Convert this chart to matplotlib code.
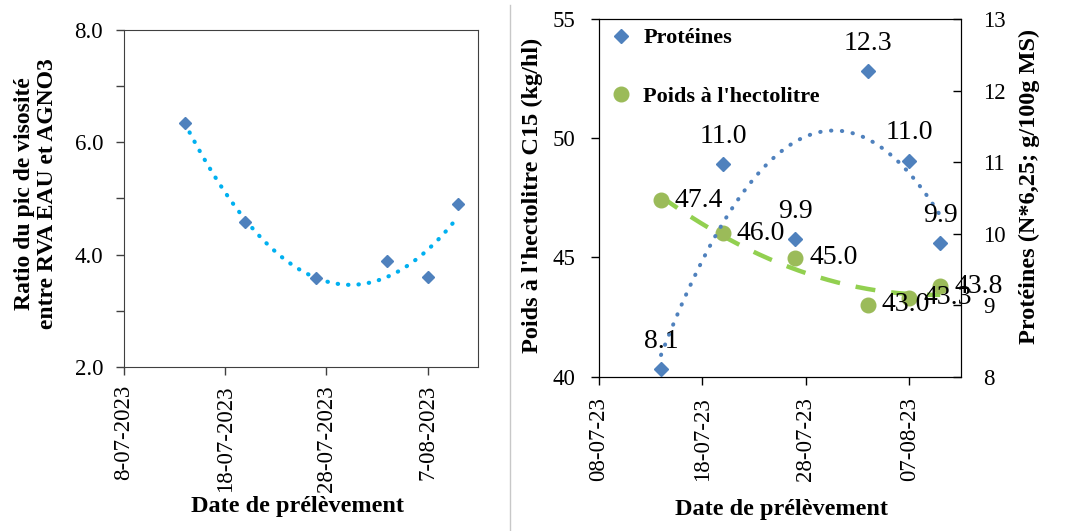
import numpy as np
import pandas as pd
import matplotlib
matplotlib.use("Agg")
import matplotlib.pyplot as plt
import matplotlib.dates as mdates
from matplotlib.lines import Line2D

plt.rcParams['font.family'] = ['Liberation Serif', 'DejaVu Serif']

# left panel data
dates_left = ["2023-07-14", "2023-07-20", "2023-07-27", "2023-08-03", "2023-08-07", "2023-08-10"]
ratio = [6.35, 4.58, 3.59, 3.88, 3.60, 4.90]
left_ticks = ["2023-07-08", "2023-07-18", "2023-07-28", "2023-08-07"]
left_tick_labels = ["8-07-2023", "18-07-2023", "28-07-2023", "7-08-2023"]

# right panel data
dates_right = ["2023-07-14", "2023-07-20", "2023-07-27", "2023-08-03", "2023-08-07", "2023-08-10"]
proteines = [8.11, 10.97, 9.92, 12.27, 11.02, 9.87]
poids = [47.40, 46.01, 44.99, 43.02, 43.31, 43.80]
right_ticks = ["2023-07-08", "2023-07-18", "2023-07-28", "2023-08-07"]
right_tick_labels = ["08-07-23", "18-07-23", "28-07-23", "07-08-23"]

x_start, x_end = "2023-07-08", "2023-08-12"

fig = plt.figure(figsize=(10.91, 5.31), dpi=100)

# ---------------- left panel ----------------
ax = fig.add_axes([0.1137, 0.3089, 0.3245, 0.6347])
xl = mdates.date2num(pd.to_datetime(dates_left))
ax.plot(xl, ratio, linestyle='none', marker='D', markersize=6.5, color='#4F81BD', zorder=3)
coef = np.polyfit(xl - xl[0], ratio, 2)
xs = np.linspace(xl[0], xl[-1], 200)
ax.plot(xs, np.polyval(coef, xs - xl[0]), color='#00B0F0', lw=3,
        linestyle=(0, (0.1, 2.4)), dash_capstyle='round', zorder=2)

ax.set_xlim(mdates.date2num(pd.to_datetime(x_start)), mdates.date2num(pd.to_datetime(x_end)))
ax.set_ylim(2, 8)
ax.set_yticks([2, 4, 6, 8])
ax.set_yticklabels(["2.0", "4.0", "6.0", "8.0"])
ax.set_yticks([3, 5, 7], minor=True)
ax.set_xticks(mdates.date2num(pd.to_datetime(left_ticks)))
ax.set_xticklabels(left_tick_labels, rotation=90)
ax.tick_params(axis='both', which='both', direction='out', length=6, width=1, labelsize=16.5, color='#404040')
ax.tick_params(axis='y', pad=9)
ax.tick_params(axis='x', pad=7)
for s in ax.spines.values():
    s.set_color('#404040')
ax.set_ylabel("Ratio du pic de visosité\nentre RVA EAU et AGNO3", fontsize=17,
              fontweight='bold', va='center', linespacing=1.15)
ax.yaxis.set_label_coords(-0.249, 0.515)
ax.set_xlabel("Date de prélèvement", fontsize=17.5, fontweight='bold', va='center')
ax.xaxis.set_label_coords(0.49, -0.4145)

# ---------------- right panel ----------------
ax1 = fig.add_axes([0.549, 0.2906, 0.3318, 0.6736])
ax2 = ax1.twinx()
xr = mdates.date2num(pd.to_datetime(dates_right))

ax1.plot(xr, poids, linestyle='none', marker='o', markersize=10.5, color='#9BBB59', zorder=3)
c_p = np.polyfit(xr - xr[0], poids, 2)
xs = np.linspace(xr[0], xr[-1], 200)
ax1.plot(xs, np.polyval(c_p, xs - xr[0]), color='#92D050', lw=3.2,
         linestyle=(0, (4.5, 3.6)), zorder=2)
for x, v in zip(xr, poids):
    ax1.annotate(f"{v:.1f}", (x, v), xytext=(10, 0), textcoords='offset points',
                 ha='left', va='center', fontsize=20, zorder=4)

ax2.plot(xr, proteines, linestyle='none', marker='D', markersize=7, color='#4F81BD', zorder=3)
c_pr = np.polyfit(xr - xr[0], proteines, 2)
ax2.plot(xs, np.polyval(c_pr, xs - xr[0]), color='#4F81BD', lw=2.9,
         linestyle=(0, (0.1, 2.6)), dash_capstyle='round', zorder=2)
for x, v in zip(xr, proteines):
    ax2.annotate(f"{v:.1f}", (x, v), xytext=(0, 20), textcoords='offset points',
                 ha='center', va='center', fontsize=20)

ax1.set_xlim(mdates.date2num(pd.to_datetime(x_start)), mdates.date2num(pd.to_datetime(x_end)))
ax1.set_ylim(40, 55)
ax1.set_yticks([40, 45, 50, 55])
ax2.set_ylim(8, 13)
ax2.set_yticks([8, 9, 10, 11, 12, 13])
ax1.set_xticks(mdates.date2num(pd.to_datetime(right_ticks)))
ax1.set_xticklabels(right_tick_labels, rotation=90)
ax1.tick_params(axis='both', direction='out', length=6, width=1, labelsize=16.5)
ax1.tick_params(axis='y', pad=11)
ax1.tick_params(axis='x', pad=8.5)
ax2.tick_params(axis='y', direction='in', length=6, width=1, labelsize=16.5, pad=16)

ax1.set_ylabel("Poids à l'hectolitre C15 (kg/hl)", fontsize=17.5, fontweight='bold', va='center')
ax1.yaxis.set_label_coords(-0.185, 0.508)
ax2.set_ylabel("Protéines (N*6,25; g/100g MS)", fontsize=17.5, fontweight='bold', va='center')
ax2.yaxis.set_label_coords(1.19, 0.531)
ax1.set_xlabel("Date de prélèvement", fontsize=17.5, fontweight='bold', va='center')
ax1.xaxis.set_label_coords(0.504, -0.3727)

handles = [Line2D([], [], linestyle='none', marker='D', markersize=7, color='#4F81BD'),
           Line2D([], [], linestyle='none', marker='o', markersize=10.5, color='#9BBB59')]
ax2.legend(handles, ["Protéines", "Poids à l'hectolitre"], loc='upper left',
           bbox_to_anchor=(0.0, 1.0), frameon=False, prop={'size': 16, 'weight': 'bold'},
           labelspacing=1.7, handletextpad=0.4, handlelength=1.2, borderaxespad=0.1,
           borderpad=0.3)

# separator line between the two panels
fig.add_artist(Line2D([510 / 1091, 510 / 1091], [0, 0.99], transform=fig.transFigure,
                      color='#c8c8c8', lw=1))

fig.savefig("out.png", dpi=100)
